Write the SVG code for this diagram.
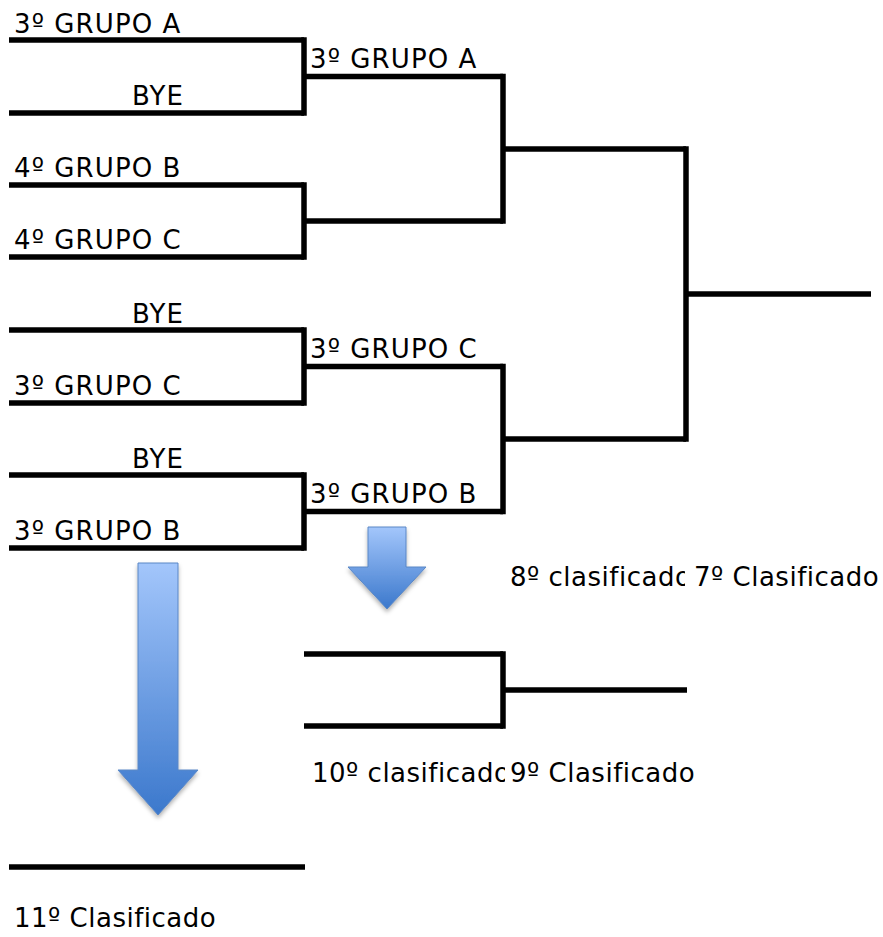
<svg xmlns="http://www.w3.org/2000/svg" width="883" height="937" viewBox="0 0 883 937">
<style>
.ln{stroke:#000;stroke-width:5.5;fill:none;stroke-linecap:butt}
.cn{stroke:#000;stroke-width:5.5;fill:none;stroke-linecap:square}
.t{font-family:"DejaVu Sans","Liberation Sans",sans-serif;font-size:26px;letter-spacing:1.1px;fill:#000}
.c{letter-spacing:0.5px}
.arr{fill:url(#g);stroke:#5a87c6;stroke-width:1;filter:url(#sh)}
</style>
<defs>
<linearGradient id="g" x1="0" y1="0" x2="0" y2="1">
<stop offset="0" stop-color="#a3c6fb"/>
<stop offset="1" stop-color="#3b78cc"/>
</linearGradient>
<filter id="sh" x="-20%" y="-10%" width="140%" height="130%">
<feDropShadow dx="0" dy="3" stdDeviation="2" flood-color="#000" flood-opacity="0.3"/>
</filter>
<clipPath id="c8"><rect x="500" y="550" width="185" height="50"/></clipPath>
<clipPath id="c10"><rect x="300" y="750" width="205" height="50"/></clipPath>
</defs>

<g id="s1"><line class="ln" x1="9" y1="40" x2="304" y2="40"/><text class="t" x="14" y="33">3º GRUPO A</text></g>
<g id="s2"><line class="ln" x1="9" y1="113" x2="304" y2="113"/><text class="t" x="132" y="105">BYE</text></g>
<g id="s3"><line class="ln" x1="9" y1="185" x2="304" y2="185"/><text class="t" x="14" y="177">4º GRUPO B</text></g>
<g id="s4"><line class="ln" x1="9" y1="257" x2="304" y2="257"/><text class="t" x="14" y="249">4º GRUPO C</text></g>
<g id="s5"><line class="ln" x1="9" y1="330" x2="304" y2="330"/><text class="t" x="132" y="323">BYE</text></g>
<g id="s6"><line class="ln" x1="9" y1="403" x2="304" y2="403"/><text class="t" x="14" y="395">3º GRUPO C</text></g>
<g id="s7"><line class="ln" x1="9" y1="475" x2="304" y2="475"/><text class="t" x="132" y="468">BYE</text></g>
<g id="s8"><line class="ln" x1="9" y1="548" x2="304" y2="548"/><text class="t" x="14" y="540">3º GRUPO B</text></g>

<g id="r2a"><line class="ln" x1="304" y1="76.5" x2="503" y2="76.5"/><text class="t" x="310" y="68">3º GRUPO A</text></g>
<g id="r2b"><line class="ln" x1="304" y1="221" x2="503" y2="221"/></g>
<g id="r2c"><line class="ln" x1="304" y1="366.5" x2="503" y2="366.5"/><text class="t" x="310" y="358">3º GRUPO C</text></g>
<g id="r2d"><line class="ln" x1="304" y1="511.5" x2="503" y2="511.5"/><text class="t" x="310" y="503">3º GRUPO B</text></g>

<g id="r3a"><line class="ln" x1="503" y1="149" x2="686" y2="149"/></g>
<g id="r3b"><line class="ln" x1="503" y1="439" x2="686" y2="439"/></g>
<g id="final"><line class="ln" x1="686" y1="294" x2="871" y2="294"/></g>

<g id="l1"><line class="ln" x1="304" y1="654" x2="503" y2="654"/></g>
<g id="l2"><line class="ln" x1="304" y1="726" x2="503" y2="726"/></g>
<g id="lf"><line class="ln" x1="503" y1="690" x2="687" y2="690"/></g>
<g id="l11"><line class="ln" x1="9" y1="867" x2="305" y2="867"/><text class="t c" x="14" y="927">11º Clasificado</text></g>

<g id="lbl78"><text class="t c" x="510" y="586" clip-path="url(#c8)">8º clasificado</text><text class="t c" x="694" y="586">7º Clasificado</text></g>
<g id="lbl910"><text class="t c" x="312" y="782" clip-path="url(#c10)">10º clasificado</text><text class="t c" x="510" y="782">9º Clasificado</text></g>

<g id="arrowSmall"><path class="arr" d="M368,527 H406 V567 H426 L387,609 L348,567 H368 Z"/></g>
<g id="arrowBig"><path class="arr" d="M138,563 H178 V770 H198 L158,815 L118,770 H138 Z"/></g>

<g id="connectors">
<line class="cn" x1="304" y1="40" x2="304" y2="113"/>
<line class="cn" x1="304" y1="185" x2="304" y2="257"/>
<line class="cn" x1="304" y1="330" x2="304" y2="403"/>
<line class="cn" x1="304" y1="475" x2="304" y2="548"/>
<line class="cn" x1="503" y1="76.5" x2="503" y2="221"/>
<line class="cn" x1="503" y1="366.5" x2="503" y2="511.5"/>
<line class="cn" x1="686" y1="149" x2="686" y2="439"/>
<line class="cn" x1="503" y1="654" x2="503" y2="726"/>
</g>
</svg>
